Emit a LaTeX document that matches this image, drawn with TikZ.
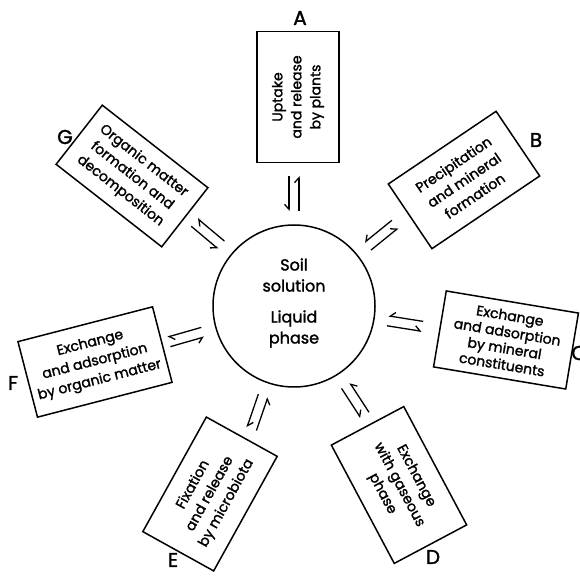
\documentclass[tikz,border=0pt]{standalone}
\usepackage{fontspec}
\setmainfont{Poppins}[FakeBold=1.6]
\usetikzlibrary{arrows.meta,calc}
\begin{document}
\begin{tikzpicture}[x=1pt,y=1pt,
  box/.style={draw,line width=1.5pt,align=center,inner sep=0pt,font=\fontsize{14}{19}\selectfont},
  lab/.style={font=\fontsize{20}{20}\selectfont},
  ctext/.style={align=center,font=\fontsize{16}{21}\selectfont},
  harp/.style={line width=1.3pt}]
\useasboundingbox (0,0) rectangle (580,575);
\node[circle,draw,line width=1.5pt,minimum size=162pt,inner sep=0pt] (O) at (294,269) {};
\node[ctext] (soil) at (294,300) {Soil\\solution};
\node[ctext] (liq) at (294,246) {Liquid\\phase};

\node[box,minimum width=131pt,minimum height=82pt,rotate=90] (A) at (298,478) {Uptake\\and release\\by plants};
\node[box,minimum width=130pt,minimum height=78pt,rotate=34] (B) at (464,395) {Precipitation\\and mineral\\formation};
\node[box,minimum width=134pt,minimum height=77pt,rotate=-9.5,font=\fontsize{14}{16.5}\selectfont] (C) at (506,235) {Exchange\\and adsorption\\by mineral\\constituents};
\node[box,minimum width=134pt,minimum height=82pt,rotate=-62] (D) at (399,90) {Exchange\\with gaseous\\phase};
\node[box,minimum width=131pt,minimum height=81pt,rotate=61] (E) at (210,81) {Fixation\\and release\\by microbiota};
\node[box,minimum width=139pt,minimum height=78pt,rotate=14.5] (F) at (95,213) {Exchange\\and adsorption\\by organic matter};
\node[box,minimum width=134pt,minimum height=75pt,rotate=-38] (G) at (132,399) {Organic matter\\formation and\\decomposition};

\node[lab] (LA) at (300,557) {A};
\node[lab] (LB) at (536,435) {B};
\node[lab] (LC) at (579,222) {C};
\node[lab] (LD) at (433,18) {D};
\node[lab] (LE) at (173,15) {E};
\node[lab] (LF) at (13,192) {F};
\node[lab] (LG) at (65,438) {G};

\foreach \n/\a in {A/90,B/39,C/-9,D/-57,E/-109,F/196,G/140} {
  \pgfmathsetmacro{\p}{\a+90}
  \pgfmathsetmacro{\q}{\a-90}
  \coordinate (\n-i) at ($(O.center)+(\a:130)+(\p:5)$);
  \coordinate (\n-j) at ($(O.center)+(\a:95)+(\p:5)$);
  \coordinate (\n-k) at ($(O.center)+(\a:95)+(\q:5)$);
  \coordinate (\n-l) at ($(O.center)+(\a:130)+(\q:5)$);
  \draw[harp,-{Straight Barb[right,length=5pt,width=9pt]}] (\n-i) -- (\n-j);
  \draw[harp,-{Straight Barb[left,length=5pt,width=9pt]}] (\n-k) -- (\n-l);
}
\end{tikzpicture}
\end{document}
